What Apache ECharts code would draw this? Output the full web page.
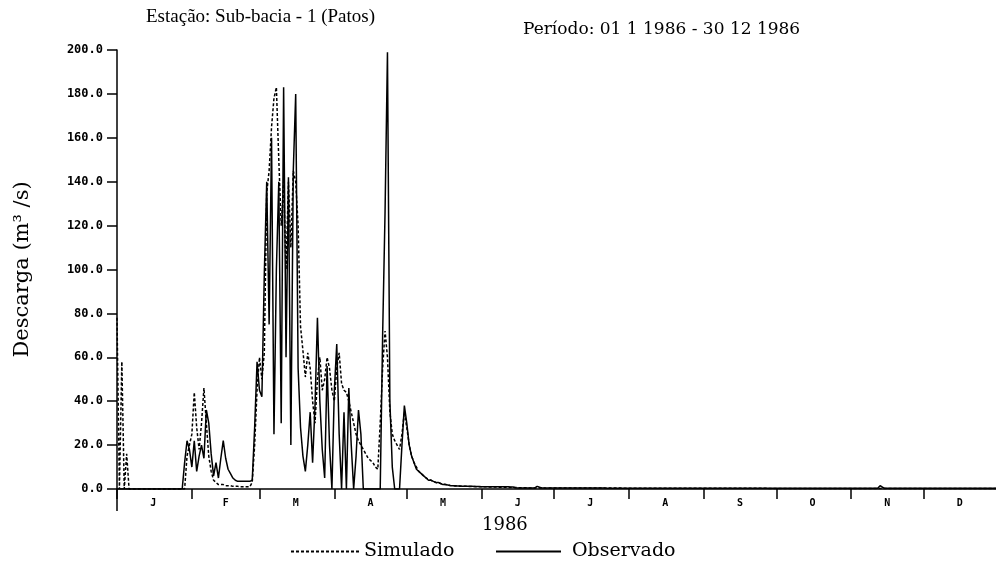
<!DOCTYPE html>
<html><head><meta charset="utf-8">
<script src="https://cdn.jsdelivr.net/npm/echarts@6/dist/echarts.min.js"></script>
<style>html,body{margin:0;padding:0;background:#fff}#c{width:996px;height:567px}</style>
</head><body><div id="c"></div>
<script>
const monthLetters = ['J','F','M','A','M','J','J','A','S','O','N','D'];
const monthLengths = [31,28,31,30,31,30,31,31,30,31,30,31];
const yTicks = [0,20,40,60,80,100,120,140,160,180,200];

const observado = [
0,0,0,0,0,0,0,0,0,0,
0,0,0,0,0,0,0,0,0,0,
0,0,0,0,0,0,0,0,12,22,
18,10,22,8,15,20,14,36,30,16,
6,12,5,14,22,14,9,7,5,4,
3.5,3.5,3.5,3.5,3.5,3.5,4,28,58,45,
42,98,140,75,160,25,100,140,30,183,
60,142,20,145,180,55,28,15,8,20,
35,12,38,78,40,18,5,56,20,0,
45,66,25,0,35,0,46,20,0,15,
36,25,0,0,0,0,0,0,0,0,
70,126,199,40,10,0,0,0,20,38,
30,20,15,12,9,8,7,6,5,4,
4,3.5,3,3,2.5,2,2,1.8,1.6,1.5,
1.5,1.4,1.4,1.3,1.3,1.2,1.2,1.2,1.1,1.1,
1.1,1,1,1,1,1,1,1,1,1,
1,1,1,0.9,0.9,0.6,0.5,0.5,0.5,0.5,
0.5,0.5,0.5,0.5,1.2,0.8,0.5,0.5,0.4,0.4,
0.4,0.4,0.4,0.4,0.4,0.4,0.4,0.4,0.4,0.4,
0.4,0.4,0.4,0.4,0.4,0.4,0.4,0.4,0.4,0.4,
0.4,0.4,0.4,0.3,0.3,0.3,0.3,0.3,0.3,0.3,
0.3,0.3,0.3,0.3,0.3,0.3,0.3,0.3,0.3,0.3,
0.3,0.3,0.3,0.3,0.3,0.3,0.3,0.3,0.3,0.3,
0.3,0.3,0.3,0.3,0.3,0.3,0.3,0.3,0.3,0.3,
0.3,0.3,0.3,0.3,0.3,0.3,0.3,0.3,0.3,0.3,
0.3,0.3,0.3,0.3,0.3,0.3,0.3,0.3,0.3,0.3,
0.3,0.3,0.3,0.3,0.3,0.3,0.3,0.3,0.3,0.3,
0.3,0.3,0.3,0.3,0.3,0.3,0.3,0.3,0.3,0.3,
0.3,0.3,0.3,0.3,0.3,0.3,0.3,0.3,0.3,0.3,
0.3,0.3,0.3,0.3,0.3,0.3,0.3,0.3,0.3,0.3,
0.3,0.3,0.3,0.3,0.3,0.3,0.3,0.3,0.3,0.3,
0.3,0.3,0.3,0.3,0.3,0.3,1.5,0.8,0.3,0.3,
0.3,0.3,0.3,0.3,0.3,0.3,0.3,0.3,0.3,0.3,
0.3,0.3,0.3,0.3,0.3,0.3,0.3,0.3,0.3,0.3,
0.3,0.3,0.3,0.3,0.3,0.3,0.3,0.3,0.3,0.3,
0.3,0.3,0.3,0.3,0.3,0.3,0.3,0.3,0.3,0.3,
0.3,0.3,0.3,0.3,0.3
];

const simulado = [
78,0,58,0,16,0,0,0,0,0,
0,0,0,0,0,0,0,0,0,0,
0,0,0,0,0,0,0,0,0,15,
20,25,44,28,18,30,46,30,15,8,
4,3,2,2,2,1.5,1.5,1.5,1.2,1.2,
1.2,1,1,1,1,1,3,20,45,60,
50,62,135,145,165,178,183,150,120,140,
100,140,110,145,140,120,74,63,51,62,
55,40,30,50,60,45,50,60,55,45,
40,55,62,48,45,44,40,35,30,25,
22,20,18,16,14,13,12,10,9,30,
55,72,60,35,25,22,20,18,25,35,
28,20,15,12,10,8,7,6,5,4.5,
4,3.5,3,2.8,2.5,2.2,2,1.8,1.6,1.5,
1.4,1.4,1.3,1.3,1.2,1.2,1.1,1.1,1.1,1,
1,1,1,1,0.9,0.9,0.9,0.9,0.8,0.8,
0.8,0.8,0.7,0.7,0.7,0.7,0.6,0.6,0.6,0.6,
0.5,0.5,0.5,0.5,0.5,0.5,0.5,0.5,0.5,0.5,
0.5,0.5,0.5,0.5,0.5,0.4,0.4,0.4,0.4,0.4,
0.4,0.4,0.4,0.4,0.4,0.4,0.4,0.4,0.4,0.4,
0.4,0.4,0.4,0.4,0.4,0.4,0.4,0.4,0.4,0.4,
0.3,0.3,0.3,0.3,0.3,0.3,0.3,0.3,0.3,0.3,
0.3,0.3,0.3,0.3,0.3,0.3,0.3,0.3,0.3,0.3,
0.3,0.3,0.3,0.3,0.3,0.3,0.3,0.3,0.3,0.3,
0.3,0.3,0.3,0.3,0.3,0.3,0.3,0.3,0.3,0.3,
0.3,0.3,0.3,0.3,0.3,0.3,0.3,0.3,0.3,0.3,
0.3,0.3,0.3,0.3,0.3,0.3,0.3,0.3,0.3,0.3,
0.2,0.2,0.2,0.2,0.2,0.2,0.2,0.2,0.2,0.2,
0.2,0.2,0.2,0.2,0.2,0.2,0.2,0.2,0.2,0.2,
0.2,0.2,0.2,0.2,0.2,0.2,0.2,0.2,0.2,0.2,
0.2,0.2,0.2,0.2,0.2,0.2,0.2,0.2,0.2,0.2,
0.2,0.2,0.2,0.2,0.2,0.2,0.2,0.2,0.2,0.2,
0.2,0.2,0.2,0.2,0.2,0.2,0.2,0.2,0.2,0.2,
0.2,0.2,0.2,0.2,0.2,0.2,0.2,0.2,0.2,0.2,
0.2,0.2,0.2,0.2,0.2,0.2,0.2,0.2,0.2,0.2,
0.2,0.2,0.2,0.2,0.2,0.2,0.2,0.2,0.2,0.2,
0.2,0.2,0.2,0.2,0.2
];

// category axis: days of 1986, built from the month table
const days = [];
const dayMonth = [];
const monthStart = new Set();
const monthMid = new Set();
monthLengths.forEach((len, m) => {
  monthStart.add(days.length);
  monthMid.add(days.length + Math.floor(len / 2));
  for (let d = 1; d <= len; d++) { days.push(d + '/' + (m + 1)); dayMonth.push(m); }
});

const chart = echarts.init(document.getElementById('c'), null, {renderer: 'canvas'});
const serif = 'Liberation Serif';
const wide = 'DejaVu Serif';
chart.setOption({
  animation: false,
  backgroundColor: '#fff',
  title: [
    {text: 'Estação: Sub-bacia - 1 (Patos)', left: 146, top: 8, padding: 0,
     textStyle: {fontFamily: serif, fontSize: 19, fontWeight: 'normal', color: '#000'}},
    {text: 'Período: 01 1 1986 - 30 12 1986', left: 523, top: 21, padding: 0,
     textStyle: {fontFamily: wide, fontSize: 17, fontWeight: 'normal', color: '#000'}},
    {text: '1986', left: 482, top: 516, padding: 0,
     textStyle: {fontFamily: wide, fontSize: 18, fontWeight: 'normal', color: '#000'}}
  ],
  legend: [
    {left: 290, top: 542, padding: 0, itemWidth: 68, itemHeight: 14, itemGap: 0,
     itemStyle: {opacity: 0},
     textStyle: {fontFamily: wide, fontSize: 19, color: '#000'},
     data: ['Simulado']},
    {left: 495, top: 542, padding: 0, itemWidth: 65, itemHeight: 14, itemGap: 0,
     itemStyle: {opacity: 0},
     textStyle: {fontFamily: wide, fontSize: 19, color: '#000', padding: [0, 0, 0, 6]},
     data: ['Observado']}
  ],
  grid: {left: 117, top: 50, width: 887, height: 439, containLabel: false},
  xAxis: {
    type: 'category', data: days, boundaryGap: false,
    axisLine: {lineStyle: {color: '#000', width: 1.5}},
    axisTick: {show: true, length: 10, lineStyle: {color: '#000', width: 1.5},
      interval: (i) => monthStart.has(i)},
    axisLabel: {interval: (i) => monthMid.has(i), margin: 9,
      formatter: (v, i) => monthLetters[dayMonth[i]],
      fontFamily: 'DejaVu Sans Mono', fontWeight: 'bold', fontSize: 10, color: '#000'},
    splitLine: {show: false}
  },
  yAxis: {
    type: 'value', min: yTicks[0], max: yTicks[yTicks.length - 1], interval: 20,
    name: 'Descarga (m³ /s)', nameLocation: 'middle', nameGap: 84,
    nameTextStyle: {fontFamily: wide, fontSize: 21, color: '#000'},
    axisLine: {show: true, lineStyle: {color: '#000', width: 1.5}},
    axisTick: {show: true, length: 10, lineStyle: {color: '#000', width: 1.5}},
    axisLabel: {margin: 14, formatter: (v) => v.toFixed(1),
      fontFamily: 'DejaVu Sans Mono', fontWeight: 'bold', fontSize: 12, color: '#000'},
    splitLine: {show: false}
  },
  graphic: [{type: 'line', shape: {x1: 117, y1: 489, x2: 117, y2: 511},
    style: {stroke: '#000', lineWidth: 1.5}}],
  series: [
    {name: 'Simulado', type: 'line', data: simulado, symbol: 'none',
     color: '#000', lineStyle: {color: '#000', width: 1.5, type: [3, 2]}},
    {name: 'Observado', type: 'line', data: observado, symbol: 'none',
     color: '#000', lineStyle: {color: '#000', width: 1.5}}
  ]
});
</script></body></html>
